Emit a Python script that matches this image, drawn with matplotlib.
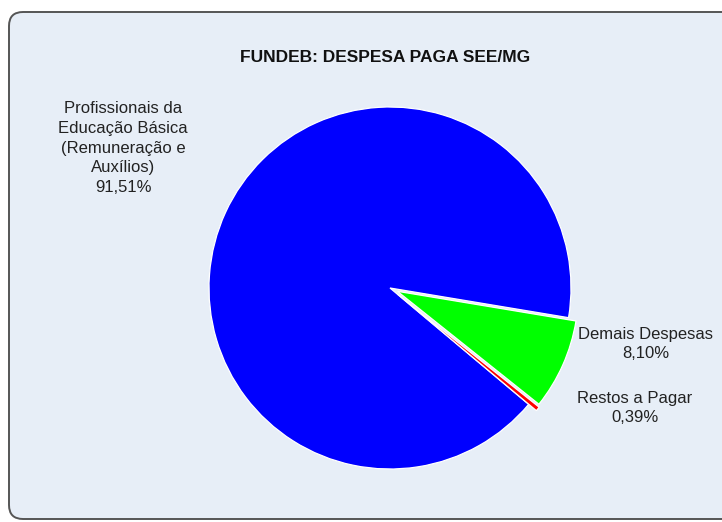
import matplotlib.pyplot as plt
from matplotlib.patches import FancyBboxPatch

plt.rcParams['font.family'] = ['Liberation Sans', 'DejaVu Sans']

# dados
categorias = ['Profissionais da\nEducação Básica\n(Remuneração e\nAuxílios)',
              'Demais Despesas', 'Restos a Pagar']
valores = [91.51, 8.10, 0.39]
cores = ['#0000FF', '#00FF00', '#FF0000']
titulo = 'FUNDEB: DESPESA PAGA SEE/MG'

W, H = 722, 522
fig = plt.figure(figsize=(W / 100, H / 100), dpi=100)
fig.patch.set_facecolor('white')
ax = fig.add_axes([0, 0, 1, 1])

# moldura arredondada
frame = FancyBboxPatch((9, 3), 740, 507, boxstyle='round,pad=0,rounding_size=14',
                       facecolor='#E7EEF7', edgecolor='#555555', linewidth=1.4, zorder=0)
ax.add_patch(frame)

cx, cy, r = 390, H - 288, 181
# explode no matplotlib é em unidades de dados
afastar = [0, 0.045 * r, 0.055 * r]
ax.pie(valores, colors=cores, explode=afastar, startangle=-40, counterclock=False,
       radius=r, center=(cx, cy), frame=True,
       wedgeprops=dict(edgecolor='white', linewidth=0.9))
ax.set_xlim(0, W)
ax.set_ylim(0, H)
ax.set_aspect('auto')
ax.axis('off')

ax.text(385, H - 58, titulo, ha='center', va='center', fontsize=12.5,
        fontweight='bold', color='#111111')

# rótulos
pos = [(123, H - 148), (646, H - 344), (635, H - 408)]
for cat, v, (x, y) in zip(categorias, valores, pos):
    txt = cat + '\n' + f'{v:.2f}'.replace('.', ',') + '%'
    ax.text(x, y, txt, ha='center', va='center', fontsize=12,
            color='#222222', linespacing=1.38)

fig.savefig('out.png', dpi=100)
